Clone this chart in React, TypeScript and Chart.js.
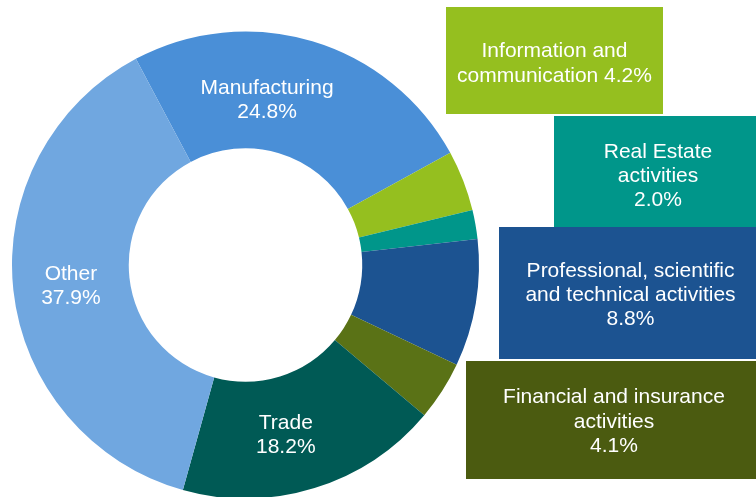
import React, { useEffect, useRef } from "react";
import { Chart, registerables } from "chart.js";

Chart.register(...registerables);

const categories = [
  "Manufacturing",
  "Information and communication",
  "Real Estate activities",
  "Professional, scientific and technical activities",
  "Financial and insurance activities",
  "Trade",
  "Other",
];
const shares = [24.8, 4.2, 2.0, 8.8, 4.1, 18.2, 37.9];
const sliceColors = ["#4a8fd7", "#95bf1f", "#00968a", "#1c5391", "#5a7216", "#005a55", "#70a7e0"];

// inner labels (index into categories) and box labels
const innerLabelLines = [
  { index: 0, lines: ["Manufacturing", "24.8%"] },
  { index: 5, lines: ["Trade", "18.2%"] },
  { index: 6, lines: ["Other", "37.9%"] },
];
const boxLabelLines = [
  { index: 1, lines: ["Information and", "communication 4.2%"] },
  { index: 2, lines: ["Real Estate", "activities", "2.0%"] },
  { index: 3, lines: ["Professional, scientific", "and technical activities", "8.8%"] },
  { index: 4, lines: ["Financial and insurance", "activities", "4.1%"] },
];

const FONT = '21px "Liberation Sans", Arial, sans-serif';
const LINE_H = 24.3;

// layout of the callout boxes (pixels)
const boxLayout: Record<number, { x: number; y: number; w: number; h: number; color: string; base: number }> = {
  1: { x: 446, y: 7, w: 217, h: 107, color: "#95bf1f", base: 57.3 },
  2: { x: 554, y: 116, w: 208, h: 111, color: "#00968a", base: 157.7 },
  3: { x: 499, y: 227, w: 263, h: 132, color: "#1c5391", base: 276.7 },
  4: { x: 466, y: 361, w: 296, h: 118, color: "#4b5b10", base: 403.4 },
};
// offsets of inner labels relative to arc centre point
const innerOffsets: Record<number, { dx: number; dy: number }> = {
  0: { dx: -28.6, dy: 1.5 },
  5: { dx: -11.5, dy: 1.5 },
  6: { dx: -0.5, dy: 1 },
};

const labelPlugin = {
  id: "customLabels",
  afterDatasetsDraw(chart: any) {
    const ctx = chart.ctx as CanvasRenderingContext2D;
    const meta = chart.getDatasetMeta(0);
    ctx.save();
    ctx.font = FONT;
    ctx.textAlign = "center";
    ctx.textBaseline = "alphabetic";
    ctx.fillStyle = "#ffffff";
    innerLabelLines.forEach((lab) => {
      const arc = meta.data[lab.index];
      const p = arc.getCenterPoint();
      const off = innerOffsets[lab.index];
      const cx = p.x + off.dx;
      const cy = p.y + off.dy;
      const n = lab.lines.length;
      lab.lines.forEach((t, i) => {
        const y = cy + (i - (n - 1) / 2) * LINE_H + 7;
        ctx.fillText(t, cx, y);
      });
    });
    boxLabelLines.forEach((lab) => {
      const b = boxLayout[lab.index];
      ctx.fillStyle = b.color;
      ctx.fillRect(b.x, b.y, b.w, b.h);
      ctx.fillStyle = "#ffffff";
      const cx = b.x + b.w / 2;
      lab.lines.forEach((t, i) => {
        ctx.fillText(t, cx, b.base + i * LINE_H);
      });
    });
    ctx.restore();
  },
};

export default function App() {
  const ref = useRef<HTMLCanvasElement | null>(null);
  useEffect(() => {
    if (!ref.current) return;
    const chart = new Chart(ref.current, {
      type: "doughnut",
      data: {
        labels: categories,
        datasets: [
          {
            data: shares,
            backgroundColor: sliceColors,
            borderWidth: 0,
            hoverOffset: 0,
          },
        ],
      },
      options: {
        responsive: false,
        animation: false,
        devicePixelRatio: 1,
        rotation: -28,
        cutout: "50%",
        layout: { padding: { left: 12, right: 277, top: 31.5, bottom: 41.5 } },
        plugins: {
          legend: { display: false },
          tooltip: { enabled: false },
        },
        events: [],
      },
      plugins: [labelPlugin],
    });
    return () => chart.destroy();
  }, []);
  return (
    <div
      style={{
        position: "fixed",
        left: 0,
        top: 0,
        width: 756,
        height: 497,
        overflow: "hidden",
        background: "#ffffff",
      }}
    >
      <canvas ref={ref} width={756} height={540} style={{ display: "block", width: 756, height: 540 }} />
    </div>
  );
}
